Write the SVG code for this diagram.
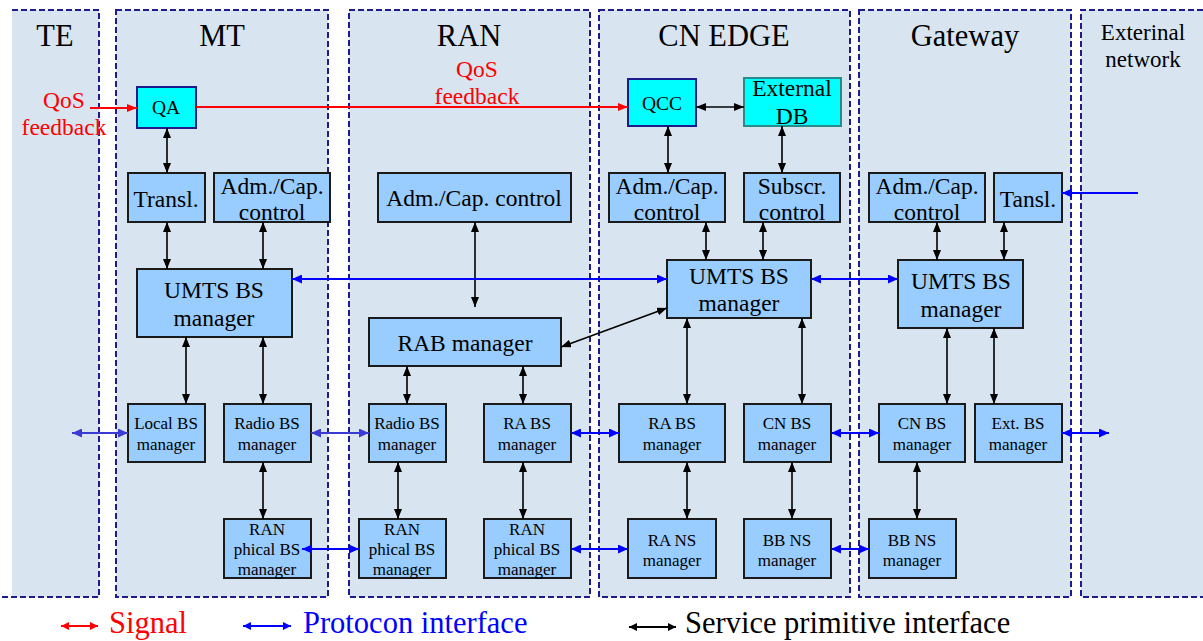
<svg xmlns="http://www.w3.org/2000/svg" width="1203" height="641" viewBox="0 0 1203 641">
  <style>
    .col { fill: #d8e5f1; }
    .colb { fill: none; stroke: #1c1c8c; stroke-width: 2; stroke-dasharray: 6 3; }
    .node { fill: #99ccff; stroke: #1a1a1a; stroke-width: 2; }
    .cyan { fill: #00ffff; stroke: #1c1c8c; stroke-width: 2; }
    .cyan2 { fill: #00ffff; stroke: #2a8a8a; stroke-width: 2; }
    text { fill: #000; text-anchor: middle; }
    .title { font-size: 30.5px; }
    .sub { font-size: 23px; }
    .fb { font-size: 23.5px; }
    .big { font-size: 23.5px; }
    .mid { font-size: 23.5px; }
    .sm { font-size: 17px; }
    .qa { font-size: 19.5px; }
    .red { fill: #ff0000; }
    .leg { font-size: 30.5px; text-anchor: start; }
    .k { stroke: #000; stroke-width: 1.6; fill: none; marker-start: url(#ak); marker-end: url(#ak); }
    .b { stroke: #0000ff; stroke-width: 2; fill: none; marker-start: url(#ab); marker-end: url(#ab); }
    .bp { stroke: #3b3bd4; stroke-width: 2; fill: none; marker-start: url(#abp); marker-end: url(#abp); }
    .r { stroke: #ff0000; stroke-width: 2; fill: none; marker-end: url(#ar); }
  </style>
  <defs>
    <marker id="ak" viewBox="0 0 10 8" refX="10" refY="4" markerWidth="10" markerHeight="8" markerUnits="userSpaceOnUse" orient="auto-start-reverse">
      <path d="M0,0 L10,4 L0,8 z" fill="#000"/>
    </marker>
    <marker id="ab" viewBox="0 0 10 9" refX="10" refY="4.5" markerWidth="10" markerHeight="9" markerUnits="userSpaceOnUse" orient="auto-start-reverse">
      <path d="M0,0 L10,4.5 L0,9 z" fill="#0000ff"/>
    </marker>
    <marker id="abp" viewBox="0 0 10 9" refX="10" refY="4.5" markerWidth="10" markerHeight="9" markerUnits="userSpaceOnUse" orient="auto-start-reverse">
      <path d="M0,0 L10,4.5 L0,9 z" fill="#3b3bd4"/>
    </marker>
    <marker id="ar" viewBox="0 0 10 8" refX="10" refY="4" markerWidth="10" markerHeight="8" markerUnits="userSpaceOnUse" orient="auto-start-reverse">
      <path d="M0,0 L10,4 L0,8 z" fill="#ff0000"/>
    </marker>
    <marker id="lk" viewBox="0 0 8 8" refX="8" refY="4" markerWidth="8" markerHeight="8" markerUnits="userSpaceOnUse" orient="auto-start-reverse">
      <path d="M0,0 L8,4 L0,8 z" fill="#000"/>
    </marker>
    <marker id="lb" viewBox="0 0 8 8" refX="8" refY="4" markerWidth="8" markerHeight="8" markerUnits="userSpaceOnUse" orient="auto-start-reverse">
      <path d="M0,0 L8,4 L0,8 z" fill="#0000ff"/>
    </marker>
    <marker id="lr" viewBox="0 0 8 8" refX="8" refY="4" markerWidth="8" markerHeight="8" markerUnits="userSpaceOnUse" orient="auto-start-reverse">
      <path d="M0,0 L8,4 L0,8 z" fill="#ff0000"/>
    </marker>
  </defs>

  <rect width="1203" height="641" fill="#ffffff"/>

  <g font-family="'Liberation Serif', 'Times New Roman', serif">
  <!-- domain columns -->
  <g id="columns">
    <g id="col-te">
      <rect class="col" x="12" y="10" width="87" height="587"/>
      <path class="colb" d="M12,10 H99 V597 H0"/>
      <text class="title" x="55" y="46">TE</text>
    </g>
    <g id="col-mt">
      <rect class="col" x="116" y="10" width="212" height="587"/>
      <rect class="colb" x="116" y="10" width="212" height="587"/>
      <text class="title" x="222" y="46">MT</text>
    </g>
    <g id="col-ran">
      <rect class="col" x="349" y="10" width="241" height="587"/>
      <rect class="colb" x="349" y="10" width="241" height="587"/>
      <text class="title" x="469" y="46">RAN</text>
    </g>
    <g id="col-cn">
      <rect class="col" x="599" y="10" width="251" height="587"/>
      <rect class="colb" x="599" y="10" width="251" height="587"/>
      <text class="title" x="724" y="46">CN EDGE</text>
    </g>
    <g id="col-gw">
      <rect class="col" x="859" y="10" width="212" height="587"/>
      <rect class="colb" x="859" y="10" width="212" height="587"/>
      <text class="title" x="965" y="46">Gateway</text>
    </g>
    <g id="col-ext">
      <rect class="col" x="1081" y="10" width="130" height="587"/>
      <path class="colb" d="M1203,10 H1081 V597 H1203"/>
      <text class="sub" x="1143" y="40">Exterinal</text>
      <text class="sub" x="1143" y="67">network</text>
    </g>
  </g>

  <!-- QoS feedback labels -->
  <g id="qos-labels">
    <text class="fb red" x="64" y="108">QoS</text>
    <text class="fb red" x="64" y="135">feedback</text>
    <text class="fb red" x="477" y="77">QoS</text>
    <text class="fb red" x="477" y="104">feedback</text>
  </g>

  <!-- nodes -->
  <g id="qa"><rect class="cyan" x="137" y="87" width="59" height="41"/><text class="qa" x="166" y="114">QA</text></g>
  <g id="qcc"><rect class="cyan" x="628" y="79" width="68" height="47"/><text class="qa" x="662" y="110">QCC</text></g>
  <g id="extdb"><rect class="cyan2" x="744" y="78" width="97" height="48"/><text class="fb" x="792" y="96">External</text><text class="fb" x="792" y="124">DB</text></g>

  <g id="mt-transl"><rect class="node" x="128" y="173" width="77" height="49"/><text class="mid" x="166" y="207">Transl.</text></g>
  <g id="mt-adm"><rect class="node" x="214" y="173" width="116" height="49"/><text class="mid" x="272" y="194">Adm./Cap.</text><text class="mid" x="272" y="220">control</text></g>
  <g id="ran-adm"><rect class="node" x="378" y="173" width="193" height="49"/><text class="mid" x="474" y="206">Adm./Cap. control</text></g>
  <g id="cn-adm"><rect class="node" x="609" y="173" width="116" height="49"/><text class="mid" x="667" y="194">Adm./Cap.</text><text class="mid" x="667" y="220">control</text></g>
  <g id="cn-subscr"><rect class="node" x="744" y="173" width="96" height="49"/><text class="mid" x="792" y="194">Subscr.</text><text class="mid" x="792" y="220">control</text></g>
  <g id="gw-adm"><rect class="node" x="869" y="173" width="116" height="49"/><text class="mid" x="927" y="194">Adm./Cap.</text><text class="mid" x="927" y="220">control</text></g>
  <g id="gw-transl"><rect class="node" x="994" y="173" width="68" height="49"/><text class="mid" x="1028" y="207">Tansl.</text></g>

  <g id="mt-umts"><rect class="node" x="137" y="269" width="155" height="68"/><text class="big" x="214" y="298">UMTS BS</text><text class="big" x="214" y="326">manager</text></g>
  <g id="cn-umts"><rect class="node" x="667" y="260" width="144" height="58"/><text class="big" x="739" y="284">UMTS BS</text><text class="big" x="739" y="311">manager</text></g>
  <g id="gw-umts"><rect class="node" x="898" y="260" width="125" height="68"/><text class="big" x="961" y="289">UMTS BS</text><text class="big" x="961" y="317">manager</text></g>
  <g id="ran-rab"><rect class="node" x="369" y="318" width="192" height="48"/><text class="big" x="465" y="351">RAB manager</text></g>

  <g id="mt-local"><rect class="node" x="128" y="404" width="77" height="58"/><text class="sm" x="166" y="429">Local BS</text><text class="sm" x="166" y="450">manager</text></g>
  <g id="mt-radio"><rect class="node" x="224" y="404" width="87" height="58"/><text class="sm" x="267" y="429">Radio BS</text><text class="sm" x="267" y="450">manager</text></g>
  <g id="ran-radio"><rect class="node" x="369" y="404" width="77" height="58"/><text class="sm" x="407" y="429">Radio BS</text><text class="sm" x="407" y="450">manager</text></g>
  <g id="ran-ra"><rect class="node" x="484" y="404" width="87" height="58"/><text class="sm" x="527" y="429">RA BS</text><text class="sm" x="527" y="450">manager</text></g>
  <g id="cn-ra"><rect class="node" x="619" y="404" width="106" height="58"/><text class="sm" x="672" y="429">RA BS</text><text class="sm" x="672" y="450">manager</text></g>
  <g id="cn-cnbs"><rect class="node" x="744" y="404" width="87" height="58"/><text class="sm" x="787" y="429">CN BS</text><text class="sm" x="787" y="450">manager</text></g>
  <g id="gw-cnbs"><rect class="node" x="879" y="404" width="86" height="58"/><text class="sm" x="922" y="429">CN BS</text><text class="sm" x="922" y="450">manager</text></g>
  <g id="gw-ext"><rect class="node" x="975" y="404" width="87" height="58"/><text class="sm" x="1018" y="429">Ext. BS</text><text class="sm" x="1018" y="450">manager</text></g>

  <g id="mt-phy"><rect class="node" x="224" y="519" width="87" height="59"/><text class="sm" x="267" y="535">RAN</text><text class="sm" x="267" y="555">phical BS</text><text class="sm" x="267" y="575">manager</text></g>
  <g id="ran-phy1"><rect class="node" x="359" y="519" width="87" height="59"/><text class="sm" x="402" y="535">RAN</text><text class="sm" x="402" y="555">phical BS</text><text class="sm" x="402" y="575">manager</text></g>
  <g id="ran-phy2"><rect class="node" x="484" y="519" width="87" height="59"/><text class="sm" x="527" y="535">RAN</text><text class="sm" x="527" y="555">phical BS</text><text class="sm" x="527" y="575">manager</text></g>
  <g id="cn-rans"><rect class="node" x="628" y="519" width="88" height="59"/><text class="sm" x="672" y="546">RA NS</text><text class="sm" x="672" y="566">manager</text></g>
  <g id="cn-bbns"><rect class="node" x="744" y="519" width="87" height="59"/><text class="sm" x="787" y="546">BB NS</text><text class="sm" x="787" y="566">manager</text></g>
  <g id="gw-bbns"><rect class="node" x="869" y="519" width="87" height="59"/><text class="sm" x="912" y="546">BB NS</text><text class="sm" x="912" y="566">manager</text></g>

  <!-- connectors -->
  <g id="connectors">
    <!-- signal path -->
    <path class="r" d="M90,108 H137"/>
    <path class="r" d="M196,107 H628"/>
    <!-- service primitive interfaces -->
    <path class="k" d="M696,107 H744"/>
    <path class="k" d="M167,128 V173"/>
    <path class="k" d="M668,126 V173"/>
    <path class="k" d="M782,126 V173"/>
    <path class="k" d="M167,222 V269"/>
    <path class="k" d="M263,222 V269"/>
    <path class="k" d="M475,222 V307"/>
    <path class="k" d="M706,222 V260"/>
    <path class="k" d="M763,222 V260"/>
    <path class="k" d="M937,222 V260"/>
    <path class="k" d="M1004,222 V260"/>
    <path class="k" d="M561,347 L667,308"/>
    <path class="k" d="M186,337 V404"/>
    <path class="k" d="M263,337 V404"/>
    <path class="k" d="M407,366 V404"/>
    <path class="k" d="M523,366 V404"/>
    <path class="k" d="M687,318 V404"/>
    <path class="k" d="M802,318 V404"/>
    <path class="k" d="M947,328 V404"/>
    <path class="k" d="M994,328 V404"/>
    <path class="k" d="M263,462 V519"/>
    <path class="k" d="M398,462 V519"/>
    <path class="k" d="M523,462 V519"/>
    <path class="k" d="M687,462 V519"/>
    <path class="k" d="M792,462 V519"/>
    <path class="k" d="M917,462 V519"/>
    <!-- protocol interfaces -->
    <path class="b" d="M292,279 H667"/>
    <path class="b" d="M811,279 H898"/>
    <path stroke="#0000ff" stroke-width="2" fill="none" marker-end="url(#ab)" d="M1138,193 H1062"/>
    <path class="bp" d="M72,433 H128"/>
    <path class="bp" d="M311,433 H369"/>
    <path class="b" d="M571,433 H619"/>
    <path class="b" d="M831,433 H879"/>
    <path class="b" d="M1062,433 H1109"/>
    <path class="b" d="M302,549 H359"/>
    <path class="b" d="M571,549 H628"/>
    <path class="b" d="M831,549 H869"/>
  </g>

  <!-- legend -->
  <g id="legend">
    <path stroke="#ff0000" stroke-width="2" fill="none" marker-start="url(#lr)" marker-end="url(#lr)" d="M61,626 H98"/>
    <text class="leg red" x="109" y="633">Signal</text>
    <path stroke="#0000ff" stroke-width="2" fill="none" marker-start="url(#lb)" marker-end="url(#lb)" d="M243,626 H291"/>
    <text class="leg" style="fill:#0000ff" x="303" y="633">Protocon interface</text>
    <path stroke="#000" stroke-width="2" fill="none" marker-start="url(#lk)" marker-end="url(#lk)" d="M629,627 H676"/>
    <text class="leg" x="685" y="633">Service primitive interface</text>
  </g>
  </g>
</svg>
